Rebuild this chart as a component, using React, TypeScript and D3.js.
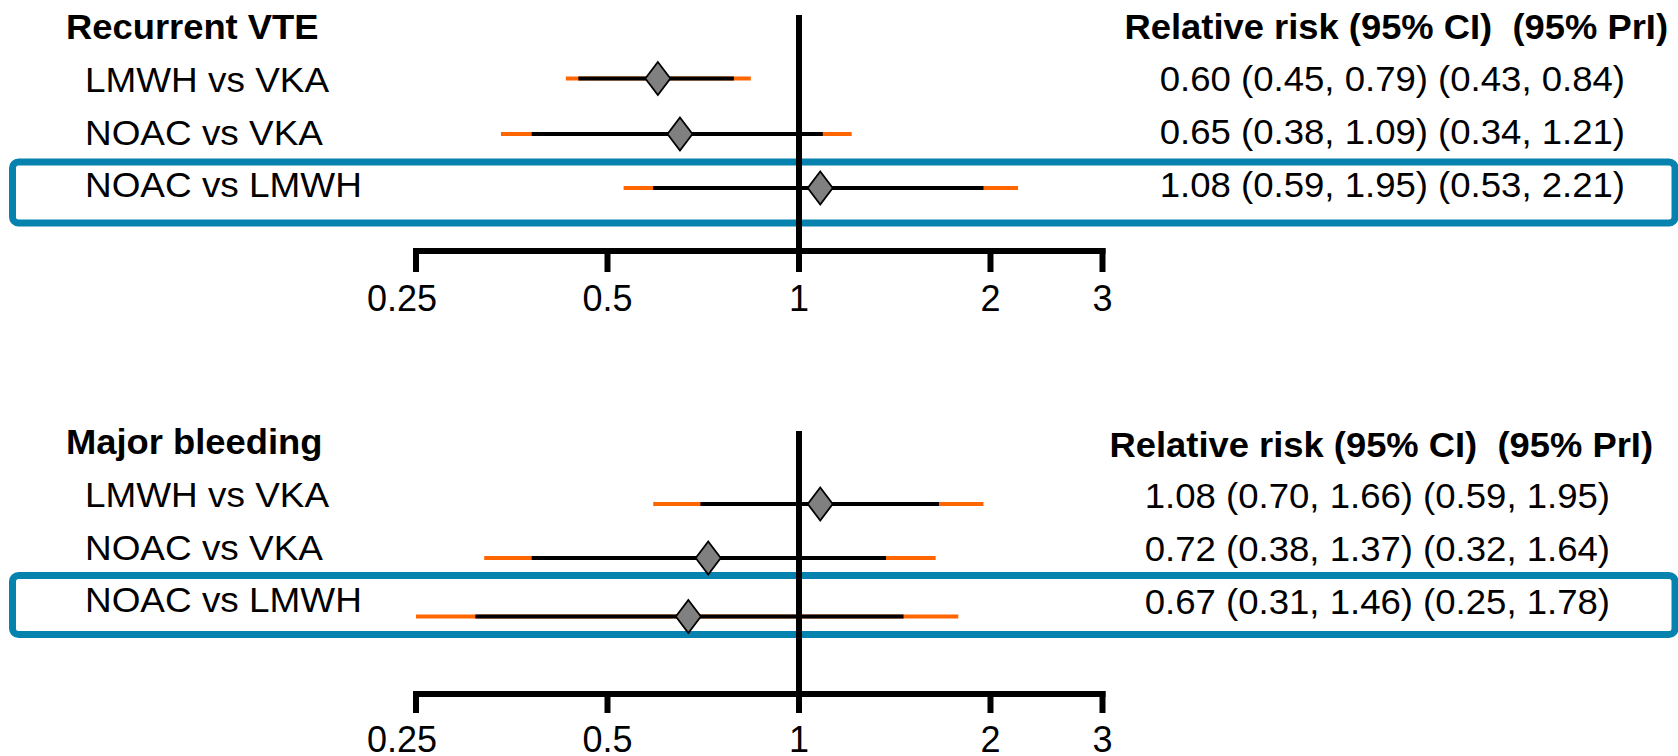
import React from "react";
import * as d3 from "d3";

// ---- Data ----
const comparisons = ["LMWH vs VKA", "NOAC vs VKA", "NOAC vs LMWH"];

const vteRR = [0.6, 0.65, 1.08];
const vteCILow = [0.45, 0.38, 0.59];
const vteCIHigh = [0.79, 1.09, 1.95];
const vtePrILow = [0.43, 0.34, 0.53];
const vtePrIHigh = [0.84, 1.21, 2.21];

const bleedRR = [1.08, 0.72, 0.67];
const bleedCILow = [0.7, 0.38, 0.31];
const bleedCIHigh = [1.66, 1.37, 1.46];
const bleedPrILow = [0.59, 0.32, 0.25];
const bleedPrIHigh = [1.95, 1.64, 1.78];

const tickValues = [0.25, 0.5, 1, 2, 3];
const tickLabels = ["0.25", "0.5", "1", "2", "3"];

const panelTitles = ["Recurrent VTE", "Major bleeding"];
const headerText = "Relative risk (95% CI)  (95% PrI)";

// ---- Layout ----
const W = 1678;
const H = 756;
const SX = 1.03; // horizontal text stretch
const FONT = "'Liberation Sans', Arial, Helvetica, sans-serif";
const ORANGE = "#FF6600";
const BLUE = "#0582AD";

const x = d3.scaleLog().domain([0.25, 3]).range([416, 1102.5]);

type Panel = {
  title: string;
  rr: number[];
  ciLo: number[];
  ciHi: number[];
  prLo: number[];
  prHi: number[];
  titleY: number;
  rowY: number[];
  labelY: number[];
  valueY: number[];
  valueRight: number;
  headerRight: number;
  headerY: number;
  vTop: number;
  axisY: number;
  tickBottom: number;
  tickLabelY: number;
  boxTop: number;
  boxBottom: number;
};

const panels: Panel[] = [
  {
    title: panelTitles[0],
    rr: vteRR,
    ciLo: vteCILow,
    ciHi: vteCIHigh,
    prLo: vtePrILow,
    prHi: vtePrIHigh,
    titleY: 38.5,
    rowY: [78.5, 134, 188],
    labelY: [91.5, 144.5, 197],
    valueY: [91, 144, 197],
    valueRight: 1625,
    headerRight: 1668,
    headerY: 39,
    vTop: 15,
    axisY: 251,
    tickBottom: 272,
    tickLabelY: 310.5,
    boxTop: 162,
    boxBottom: 223,
  },
  {
    title: panelTitles[1],
    rr: bleedRR,
    ciLo: bleedCILow,
    ciHi: bleedCIHigh,
    prLo: bleedPrILow,
    prHi: bleedPrIHigh,
    titleY: 454,
    rowY: [504, 558, 616.5],
    labelY: [507, 560, 612],
    valueY: [508, 561, 614],
    valueRight: 1610,
    headerRight: 1653,
    headerY: 457,
    vTop: 431,
    axisY: 694,
    tickBottom: 713,
    tickLabelY: 752,
    boxTop: 575.5,
    boxBottom: 634.5,
  },
];

const fmt = (v: number) => v.toFixed(2);

function Txt({
  x0,
  y0,
  children,
  anchor = "start",
  bold = false,
  size = 35.5,
  sx = SX,
}: {
  x0: number;
  y0: number;
  children: React.ReactNode;
  anchor?: string;
  bold?: boolean;
  size?: number;
  sx?: number;
}) {
  return (
    <text
      transform={`translate(${x0},${y0}) scale(${sx},1)`}
      textAnchor={anchor as any}
      fontFamily={FONT}
      fontSize={size}
      fontWeight={bold ? "bold" : "normal"}
      fill="#000"
      style={{ whiteSpace: "pre" }}
    >
      {children}
    </text>
  );
}

function PanelView({ p }: { p: Panel }) {
  const x1 = x(1);
  const axisLeft = x(tickValues[0]) - 3;
  const axisRight = x(tickValues[tickValues.length - 1]) + 3;
  return (
    <g>
      {/* highlight box */}
      <rect
        x={12.5}
        y={p.boxTop}
        width={1675 - 12.5}
        height={p.boxBottom - p.boxTop}
        rx={6}
        ry={6}
        fill="none"
        stroke={BLUE}
        strokeWidth={7}
      />
      {/* title */}
      <Txt x0={66} y0={p.titleY} bold size={35.3}>
        {p.title}
      </Txt>
      <Txt x0={p.headerRight} y0={p.headerY} anchor="end" bold size={35.3}>
        {headerText}
      </Txt>
      {/* row labels and values */}
      {comparisons.map((c, i) => (
        <g key={c}>
          <Txt x0={85} y0={p.labelY[i]} sx={1.04}>
            {c}
          </Txt>
          <Txt x0={p.valueRight} y0={p.valueY[i]} anchor="end">
            {`${fmt(p.rr[i])} (${fmt(p.ciLo[i])}, ${fmt(p.ciHi[i])}) (${fmt(
              p.prLo[i]
            )}, ${fmt(p.prHi[i])})`}
          </Txt>
        </g>
      ))}
      {/* intervals */}
      {comparisons.map((c, i) => (
        <g key={"l" + c}>
          <line
            x1={x(p.prLo[i])}
            x2={x(p.prHi[i])}
            y1={p.rowY[i]}
            y2={p.rowY[i]}
            stroke={ORANGE}
            strokeWidth={4}
          />
          <line
            x1={x(p.ciLo[i])}
            x2={x(p.ciHi[i])}
            y1={p.rowY[i]}
            y2={p.rowY[i]}
            stroke="#000"
            strokeWidth={4}
          />
        </g>
      ))}
      {/* reference line */}
      <line x1={x1} x2={x1} y1={p.vTop} y2={p.tickBottom} stroke="#000" strokeWidth={6} />
      {/* diamonds */}
      {comparisons.map((c, i) => {
        const cx = x(p.rr[i]);
        const cy = p.rowY[i];
        const hw = 12.5;
        const hh = 16.5;
        return (
          <path
            key={"d" + c}
            d={`M${cx},${cy - hh}L${cx + hw},${cy}L${cx},${cy + hh}L${cx - hw},${cy}Z`}
            fill="#808080"
            stroke="#000"
            strokeWidth={1.8}
            strokeLinejoin="miter"
          />
        );
      })}
      {/* axis */}
      <line x1={axisLeft} x2={axisRight} y1={p.axisY} y2={p.axisY} stroke="#000" strokeWidth={6} />
      {tickValues.map((t, i) => (
        <g key={"t" + t}>
          <line
            x1={x(t)}
            x2={x(t)}
            y1={p.axisY - 3}
            y2={p.tickBottom}
            stroke="#000"
            strokeWidth={6}
          />
          <Txt
            x0={x(t) + (i === 0 ? -14 : 0)}
            y0={p.tickLabelY}
            anchor="middle"
            size={36}
            sx={1}
          >
            {tickLabels[i]}
          </Txt>
        </g>
      ))}
    </g>
  );
}

export default function App() {
  return (
    <svg
      width={W}
      height={H}
      viewBox={`0 0 ${W} ${H}`}
      style={{ position: "absolute", left: 0, top: 0, display: "block", background: "#fff" }}
    >
      <rect x={0} y={0} width={W} height={H} fill="#fff" />
      {panels.map((p) => (
        <PanelView key={p.title} p={p} />
      ))}
    </svg>
  );
}
